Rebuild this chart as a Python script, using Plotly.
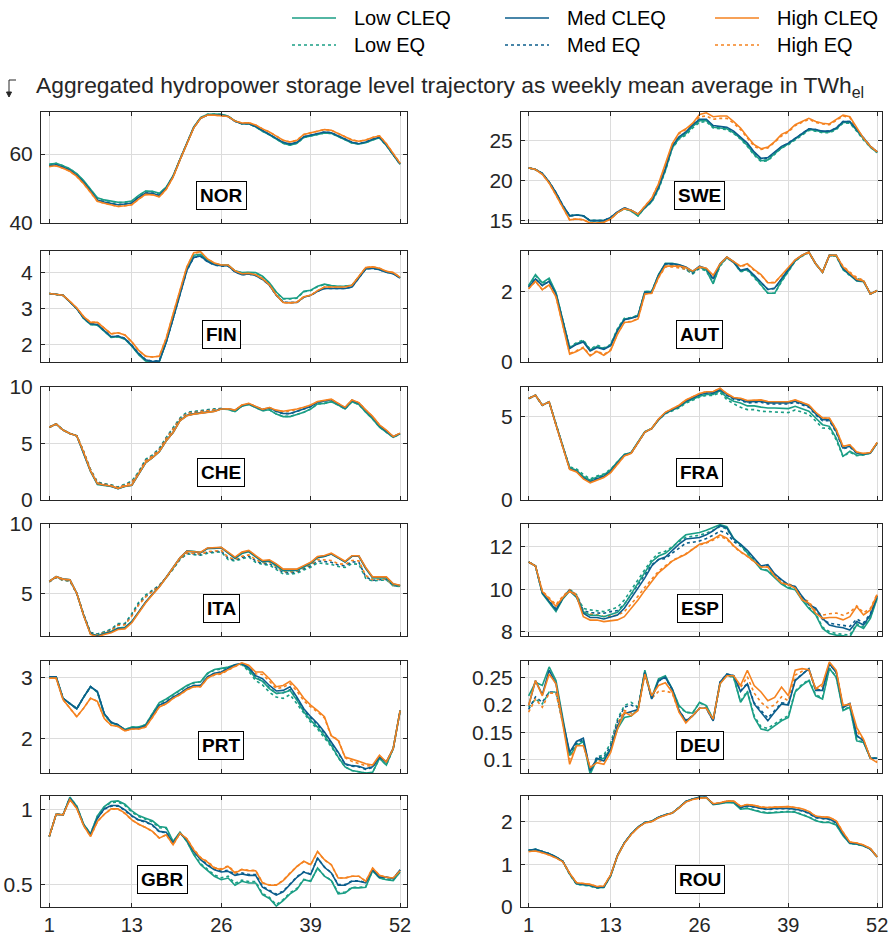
import plotly.graph_objects as go

W, H = 893, 937
WEEKS = list(range(1, 53))

COUNTRIES = ["NOR", "SWE", "FIN", "AUT", "CHE", "FRA", "ITA", "ESP", "PRT", "DEU", "GBR", "ROU"]
SERIES_NAMES = ["Low CLEQ", "Med CLEQ", "High CLEQ", "Low EQ", "Med EQ", "High EQ"]
X_TICKS = [1, 13, 26, 39, 52]

# ---------------- data (TWh_el, weekly mean) ----------------
NOR_LOW_CLEQ = [57.0,57.3,56.6,55.7,54.3,52.3,49.8,47.3,46.7,46.3,46.0,46.1,46.4,48.0,49.3,49.2,48.6,50.4,53.7,58.5,63.0,67.8,70.6,71.5,71.6,71.5,71.0,69.6,68.8,68.8,67.9,66.6,65.6,64.3,63.1,62.6,63.1,64.8,65.2,65.7,66.1,66.0,65.1,64.0,63.2,62.9,63.3,64.1,64.7,62.5,59.7,57.0]
NOR_MED_CLEQ = [56.6,56.9,56.2,55.3,53.8,51.8,49.3,46.7,46.1,45.7,45.3,45.5,45.8,47.4,48.7,48.6,48.0,50.1,53.5,58.4,62.9,67.7,70.4,71.3,71.4,71.3,70.9,69.5,68.8,68.8,68.0,66.8,65.8,64.6,63.4,62.9,63.4,65.0,65.5,66.0,66.4,66.2,65.3,64.3,63.4,63.0,63.5,64.3,64.9,62.6,59.8,57.1]
NOR_HIGH_CLEQ = [56.4,56.6,55.9,55.0,53.5,51.4,48.9,46.3,45.7,45.3,44.8,45.0,45.3,46.9,48.3,48.2,47.6,49.8,53.3,58.3,62.9,67.6,70.4,71.3,71.3,71.2,70.9,69.6,69.0,69.1,68.4,67.3,66.4,65.2,64.0,63.5,64.0,65.7,66.2,66.7,67.1,66.9,66.0,65.0,64.1,63.7,64.1,64.8,65.3,63.0,60.0,57.3]
NOR_LOW_EQ = [57.0,57.3,56.6,55.7,54.2,52.2,49.7,47.2,46.6,46.2,45.9,46.0,46.3,47.9,49.2,49.1,48.5,50.3,53.6,58.4,63.0,67.8,70.6,71.5,71.6,71.5,71.0,69.6,68.8,68.8,67.9,66.6,65.6,64.3,63.1,62.6,63.1,64.8,65.2,65.7,66.1,66.0,65.1,64.0,63.2,62.9,63.3,64.1,64.7,62.5,59.7,57.0]
NOR_MED_EQ = [56.6,56.9,56.2,55.3,53.8,51.8,49.3,46.7,46.1,45.7,45.3,45.5,45.8,47.4,48.7,48.6,48.0,50.1,53.5,58.4,62.9,67.7,70.4,71.3,71.4,71.3,70.9,69.5,68.8,68.8,68.0,66.8,65.8,64.6,63.4,62.9,63.4,65.0,65.5,66.0,66.4,66.2,65.3,64.3,63.4,63.0,63.5,64.3,64.9,62.6,59.8,57.1]
NOR_HIGH_EQ = [56.4,56.6,55.9,55.0,53.5,51.4,48.9,46.3,45.7,45.3,44.8,45.0,45.3,46.9,48.3,48.2,47.6,49.8,53.3,58.3,62.9,67.6,70.4,71.3,71.3,71.2,70.9,69.6,69.0,69.1,68.4,67.3,66.4,65.2,64.0,63.5,64.0,65.7,66.2,66.7,67.1,66.9,66.0,65.0,64.1,63.7,64.1,64.8,65.3,63.0,60.0,57.3]

SWE_LOW_CLEQ = [21.6,21.4,20.9,19.8,18.4,16.8,15.6,15.7,15.6,15.0,15.0,15.0,15.3,16.0,16.5,16.2,15.6,16.6,17.4,19.0,21.3,24.1,25.3,25.9,26.8,27.5,27.5,26.7,26.6,26.5,26.0,25.3,24.4,23.3,22.5,22.6,23.4,24.1,24.6,25.2,25.9,26.4,26.3,26.1,26.1,26.5,27.3,27.3,26.3,25.2,24.2,23.5]
SWE_MED_CLEQ = [21.6,21.4,20.9,19.85,18.5,16.9,15.6,15.7,15.6,15.0,15.0,15.0,15.4,16.1,16.6,16.3,15.8,16.7,17.5,19.2,21.5,24.3,25.5,26.1,27.0,27.7,27.7,26.9,26.8,26.7,26.2,25.5,24.7,23.6,22.8,22.9,23.6,24.3,24.7,25.3,26.0,26.5,26.4,26.2,26.2,26.6,27.4,27.4,26.4,25.3,24.3,23.6]
SWE_HIGH_CLEQ = [21.6,21.4,20.8,19.7,18.2,16.6,15.1,15.2,15.1,14.7,14.7,14.8,15.2,16.0,16.5,16.3,15.8,16.8,17.8,19.6,22.0,24.6,26.0,26.5,27.2,28.3,28.5,28.0,28.1,28.1,27.4,26.6,25.5,24.5,24.0,24.2,24.9,25.8,26.2,27.0,27.4,27.8,27.4,27.2,27.1,27.7,28.2,28.0,26.6,25.3,24.3,23.6]
SWE_LOW_EQ = [21.6,21.4,20.9,19.8,18.4,16.8,15.6,15.7,15.6,15.0,15.0,15.0,15.3,16.0,16.5,16.2,15.6,16.6,17.3,18.9,21.2,24.0,25.2,25.7,26.6,27.3,27.4,26.6,26.5,26.4,25.9,25.2,24.3,23.2,22.4,22.5,23.3,24.1,24.5,25.1,25.8,26.3,26.2,26.0,26.0,26.4,27.2,27.2,26.2,25.1,24.2,23.5]
SWE_MED_EQ = [21.6,21.4,20.9,19.85,18.5,16.9,15.6,15.7,15.6,15.0,15.0,15.0,15.4,16.1,16.6,16.3,15.8,16.7,17.5,19.1,21.4,24.2,25.4,26.0,26.9,27.6,27.6,26.8,26.7,26.6,26.1,25.4,24.6,23.5,22.7,22.8,23.5,24.2,24.7,25.3,26.0,26.5,26.4,26.2,26.2,26.6,27.4,27.4,26.4,25.3,24.3,23.6]
SWE_HIGH_EQ = [21.6,21.4,20.8,19.7,18.2,16.6,15.1,15.2,15.1,14.7,14.7,14.8,15.2,16.0,16.5,16.3,15.8,16.8,17.8,19.6,21.9,24.5,25.9,26.4,27.1,28.0,28.1,27.7,27.8,27.8,27.2,26.4,25.3,24.3,23.9,24.1,24.8,25.6,26.1,26.9,27.3,27.7,27.3,27.1,27.0,27.6,28.1,27.9,26.5,25.3,24.3,23.6]

FIN_LOW_CLEQ = [3.42,3.40,3.37,3.19,3.00,2.73,2.56,2.54,2.38,2.20,2.22,2.15,1.96,1.72,1.55,1.50,1.53,2.08,2.75,3.42,4.12,4.48,4.51,4.35,4.25,4.21,4.21,4.05,4.00,4.01,4.00,3.90,3.72,3.46,3.28,3.28,3.30,3.48,3.51,3.62,3.68,3.64,3.62,3.63,3.65,3.88,4.12,4.14,4.10,4.02,3.98,3.86]
FIN_MED_CLEQ = [3.42,3.40,3.37,3.19,3.00,2.74,2.58,2.56,2.40,2.22,2.24,2.17,1.98,1.75,1.58,1.53,1.55,2.07,2.72,3.37,4.06,4.42,4.46,4.31,4.22,4.19,4.19,4.02,3.94,3.96,3.92,3.81,3.65,3.37,3.18,3.17,3.17,3.32,3.37,3.48,3.56,3.56,3.55,3.56,3.60,3.85,4.10,4.12,4.08,4.01,3.97,3.85]
FIN_HIGH_CLEQ = [3.42,3.40,3.37,3.20,3.02,2.78,2.62,2.62,2.46,2.30,2.33,2.27,2.08,1.84,1.68,1.66,1.68,2.18,2.85,3.48,4.16,4.55,4.58,4.38,4.27,4.21,4.21,4.05,3.97,3.98,3.94,3.83,3.66,3.38,3.17,3.16,3.18,3.33,3.37,3.50,3.60,3.60,3.59,3.60,3.65,3.90,4.14,4.16,4.12,4.04,4.00,3.87]
FIN_LOW_EQ = [3.42,3.40,3.37,3.19,3.00,2.73,2.56,2.54,2.38,2.21,2.22,2.16,1.97,1.73,1.56,1.51,1.54,2.08,2.74,3.41,4.11,4.47,4.50,4.34,4.24,4.20,4.20,4.04,3.99,4.00,3.99,3.89,3.71,3.45,3.27,3.27,3.29,3.47,3.50,3.61,3.67,3.63,3.61,3.62,3.64,3.87,4.11,4.13,4.09,4.02,3.98,3.86]
FIN_MED_EQ = [3.42,3.40,3.37,3.19,3.00,2.74,2.58,2.56,2.40,2.22,2.24,2.18,1.99,1.76,1.59,1.54,1.56,2.07,2.72,3.37,4.06,4.42,4.45,4.30,4.21,4.18,4.18,4.02,3.94,3.96,3.92,3.81,3.65,3.37,3.18,3.17,3.17,3.32,3.37,3.48,3.56,3.56,3.55,3.56,3.60,3.85,4.10,4.12,4.08,4.01,3.97,3.85]
FIN_HIGH_EQ = [3.42,3.40,3.37,3.20,3.02,2.78,2.62,2.62,2.46,2.30,2.33,2.27,2.08,1.84,1.68,1.66,1.68,2.18,2.84,3.47,4.15,4.54,4.57,4.37,4.26,4.21,4.21,4.05,3.97,3.98,3.94,3.83,3.66,3.38,3.17,3.16,3.18,3.33,3.37,3.50,3.60,3.60,3.59,3.60,3.65,3.90,4.14,4.16,4.12,4.04,4.00,3.87]

AUT_LOW_CLEQ = [2.17,2.48,2.25,2.38,1.97,1.15,0.40,0.52,0.60,0.34,0.44,0.38,0.48,0.92,1.22,1.25,1.32,2.00,2.00,2.48,2.80,2.80,2.76,2.68,2.55,2.70,2.60,2.22,2.75,2.97,2.84,2.58,2.63,2.42,2.20,1.95,1.95,2.30,2.58,2.88,3.02,3.12,2.79,2.55,3.03,3.02,2.63,2.46,2.30,2.28,1.93,2.03]
AUT_MED_CLEQ = [2.12,2.36,2.17,2.29,1.93,1.12,0.38,0.50,0.57,0.31,0.41,0.36,0.46,0.89,1.20,1.24,1.30,1.98,1.98,2.46,2.79,2.79,2.76,2.70,2.57,2.72,2.65,2.36,2.79,2.98,2.84,2.60,2.65,2.46,2.27,2.06,2.10,2.36,2.60,2.89,3.03,3.12,2.79,2.55,3.03,3.03,2.65,2.48,2.31,2.29,1.93,2.03]
AUT_HIGH_CLEQ = [2.08,2.29,2.05,2.19,1.85,1.02,0.22,0.30,0.40,0.17,0.30,0.19,0.33,0.79,1.12,1.14,1.22,1.93,1.95,2.40,2.72,2.72,2.72,2.68,2.58,2.70,2.66,2.46,2.78,2.98,2.84,2.72,2.79,2.62,2.48,2.25,2.25,2.46,2.66,2.90,3.03,3.12,2.79,2.55,3.03,3.03,2.70,2.52,2.35,2.30,1.93,2.03]
AUT_LOW_EQ = [2.15,2.45,2.22,2.35,1.95,1.16,0.42,0.55,0.62,0.36,0.48,0.40,0.50,0.95,1.24,1.26,1.33,2.00,2.00,2.47,2.78,2.76,2.70,2.62,2.50,2.66,2.58,2.25,2.72,2.95,2.82,2.56,2.60,2.40,2.18,1.95,1.95,2.28,2.56,2.86,3.00,3.10,2.78,2.55,3.02,3.00,2.62,2.45,2.38,2.30,1.93,2.02]
AUT_MED_EQ = [2.12,2.36,2.17,2.29,1.93,1.12,0.40,0.52,0.59,0.33,0.44,0.38,0.48,0.90,1.21,1.25,1.31,1.98,1.98,2.45,2.77,2.76,2.72,2.64,2.52,2.68,2.62,2.34,2.76,2.96,2.82,2.58,2.63,2.45,2.25,2.06,2.08,2.34,2.58,2.87,3.02,3.11,2.78,2.55,3.02,3.02,2.65,2.48,2.36,2.30,1.93,2.02]
AUT_HIGH_EQ = [2.08,2.29,2.05,2.19,1.85,1.03,0.24,0.32,0.42,0.19,0.32,0.21,0.35,0.80,1.13,1.15,1.23,1.93,1.95,2.39,2.70,2.70,2.68,2.64,2.55,2.68,2.64,2.44,2.76,2.97,2.83,2.70,2.77,2.60,2.46,2.25,2.26,2.45,2.64,2.89,3.02,3.11,2.78,2.55,3.02,3.02,2.72,2.55,2.40,2.32,1.93,2.02]

CHE_LOW_CLEQ = [6.43,6.73,6.19,5.89,5.68,4.18,2.52,1.38,1.28,1.20,1.00,1.20,1.30,2.24,3.28,3.74,4.28,5.24,5.98,7.02,7.47,7.62,7.68,7.77,7.86,8.05,8.02,7.82,8.30,8.46,8.20,7.90,7.98,7.60,7.38,7.38,7.56,7.77,8.05,8.50,8.55,8.70,8.40,8.05,8.70,8.45,7.78,7.18,6.45,6.02,5.55,5.85]
CHE_MED_CLEQ = [6.43,6.73,6.19,5.89,5.68,4.20,2.56,1.43,1.31,1.22,1.01,1.22,1.31,2.26,3.30,3.75,4.29,5.24,5.98,7.02,7.47,7.62,7.68,7.77,7.86,8.07,8.07,7.92,8.36,8.51,8.27,8.00,8.15,7.85,7.65,7.65,7.85,8.07,8.27,8.66,8.75,8.87,8.51,8.15,8.81,8.57,7.92,7.32,6.58,6.13,5.60,5.89]
CHE_HIGH_CLEQ = [6.43,6.73,6.19,5.89,5.68,4.22,2.58,1.45,1.33,1.24,1.03,1.23,1.32,2.27,3.31,3.76,4.30,5.24,5.98,7.00,7.45,7.60,7.66,7.75,7.84,8.05,8.07,7.95,8.40,8.55,8.30,8.02,8.18,7.95,7.85,7.92,8.05,8.20,8.40,8.72,8.80,8.92,8.55,8.20,8.85,8.62,7.98,7.40,6.65,6.18,5.62,5.92]
CHE_LOW_EQ = [6.43,6.73,6.19,5.89,5.68,4.30,2.70,1.60,1.43,1.35,1.15,1.43,1.67,2.50,3.60,3.99,4.58,5.54,6.43,7.26,7.77,7.86,7.92,7.98,8.07,8.10,8.02,7.82,8.30,8.46,8.20,7.90,7.98,7.60,7.40,7.40,7.56,7.77,8.05,8.50,8.55,8.70,8.40,8.05,8.70,8.45,7.78,7.18,6.45,6.02,5.55,5.85]
CHE_MED_EQ = [6.43,6.73,6.19,5.89,5.68,4.27,2.66,1.55,1.40,1.31,1.11,1.38,1.60,2.44,3.52,3.93,4.50,5.46,6.32,7.18,7.70,7.80,7.86,7.93,8.02,8.09,8.06,7.90,8.35,8.50,8.26,8.00,8.14,7.84,7.64,7.64,7.84,8.06,8.26,8.65,8.74,8.86,8.50,8.14,8.80,8.56,7.91,7.31,6.57,6.12,5.60,5.89]
CHE_HIGH_EQ = [6.43,6.73,6.19,5.89,5.68,4.26,2.64,1.52,1.38,1.29,1.09,1.35,1.56,2.40,3.47,3.89,4.46,5.42,6.26,7.14,7.66,7.76,7.82,7.90,7.98,8.07,8.06,7.94,8.38,8.53,8.29,8.02,8.17,7.93,7.82,7.88,8.02,8.18,8.38,8.70,8.78,8.90,8.54,8.18,8.84,8.60,7.96,7.38,6.63,6.16,5.61,5.91]

FRA_LOW_CLEQ = [6.06,6.25,5.66,5.86,4.52,3.14,1.92,1.78,1.40,1.18,1.38,1.50,1.80,2.28,2.72,2.84,3.43,4.08,4.28,4.80,5.18,5.36,5.55,5.84,6.03,6.20,6.30,6.30,6.52,6.12,5.90,5.80,5.62,5.62,5.55,5.50,5.50,5.46,5.46,5.60,5.46,5.30,4.90,4.50,4.40,3.70,2.61,2.91,2.67,2.71,2.81,3.41]
FRA_MED_CLEQ = [6.06,6.25,5.66,5.86,4.50,3.11,1.87,1.71,1.31,1.08,1.27,1.41,1.71,2.21,2.67,2.81,3.41,4.06,4.26,4.80,5.20,5.40,5.60,5.90,6.10,6.29,6.39,6.39,6.59,6.29,6.06,6.00,5.86,5.86,5.90,5.80,5.80,5.80,5.80,5.90,5.74,5.60,5.14,4.80,4.80,4.10,3.11,3.21,2.81,2.75,2.81,3.41]
FRA_HIGH_CLEQ = [6.06,6.25,5.66,5.86,4.48,3.08,1.83,1.67,1.26,1.03,1.20,1.34,1.64,2.15,2.63,2.79,3.40,4.06,4.27,4.83,5.24,5.45,5.66,5.97,6.18,6.36,6.47,6.48,6.68,6.36,6.12,6.08,5.94,5.94,5.98,5.88,5.88,5.87,5.87,5.98,5.82,5.68,5.24,4.90,4.90,4.22,3.21,3.30,2.86,2.78,2.84,3.43]
FRA_LOW_EQ = [6.06,6.25,5.66,5.86,4.55,3.18,1.98,1.86,1.52,1.26,1.44,1.55,1.84,2.30,2.72,2.84,3.43,4.06,4.27,4.78,5.15,5.32,5.50,5.78,5.98,6.15,6.25,6.24,6.42,6.00,5.75,5.54,5.40,5.40,5.30,5.28,5.25,5.20,5.22,5.38,5.25,5.12,4.72,4.30,4.28,3.60,2.58,2.86,2.64,2.69,2.80,3.41]
FRA_MED_EQ = [6.06,6.25,5.66,5.86,4.51,3.13,1.90,1.75,1.35,1.12,1.31,1.44,1.74,2.23,2.68,2.81,3.41,4.06,4.26,4.79,5.19,5.39,5.59,5.89,6.09,6.28,6.37,6.37,6.56,6.25,6.02,5.95,5.80,5.80,5.84,5.74,5.74,5.73,5.73,5.84,5.68,5.54,5.08,4.74,4.73,4.04,3.06,3.17,2.79,2.74,2.81,3.41]
FRA_HIGH_EQ = [6.06,6.25,5.66,5.86,4.48,3.09,1.85,1.70,1.30,1.06,1.23,1.37,1.66,2.16,2.63,2.79,3.40,4.05,4.26,4.82,5.23,5.44,5.65,5.96,6.17,6.35,6.46,6.47,6.66,6.34,6.10,6.06,5.92,5.92,5.96,5.86,5.86,5.85,5.85,5.96,5.80,5.66,5.22,4.88,4.88,4.20,3.19,3.28,2.85,2.78,2.84,3.43]

ITA_LOW_CLEQ = [5.87,6.21,6.04,6.00,5.02,3.45,2.12,1.97,2.14,2.27,2.53,2.57,3.00,3.72,4.38,4.95,5.50,6.15,6.82,7.55,8.05,8.03,7.94,8.24,8.25,8.30,7.90,7.52,7.88,8.00,7.64,7.28,7.33,7.02,6.65,6.65,6.66,6.90,7.16,7.58,7.66,7.84,7.55,7.26,7.68,7.68,6.80,6.12,6.12,6.12,5.64,5.55]
ITA_MED_CLEQ = [5.87,6.21,6.04,6.00,5.02,3.45,2.11,1.94,2.11,2.23,2.48,2.52,2.96,3.69,4.37,4.95,5.51,6.17,6.84,7.57,8.06,8.01,7.94,8.25,8.25,8.30,7.94,7.57,7.94,8.06,7.69,7.33,7.38,7.09,6.72,6.72,6.72,6.97,7.21,7.62,7.69,7.86,7.57,7.28,7.69,7.69,6.84,6.17,6.17,6.17,5.68,5.58]
ITA_HIGH_CLEQ = [5.87,6.21,6.04,6.00,5.02,3.43,2.06,1.90,2.06,2.18,2.42,2.46,2.90,3.64,4.32,4.92,5.48,6.15,6.84,7.57,8.04,8.00,7.97,8.28,8.28,8.33,7.98,7.62,7.98,8.10,7.73,7.38,7.43,7.14,6.76,6.76,6.76,7.01,7.25,7.66,7.73,7.90,7.60,7.32,7.72,7.72,6.88,6.20,6.20,6.20,5.70,5.60]
ITA_LOW_EQ = [5.85,6.15,5.95,5.90,5.00,3.50,2.20,2.10,2.25,2.45,2.84,2.85,3.57,4.37,4.90,5.27,5.60,6.15,6.75,7.45,7.85,7.80,7.75,7.90,7.95,8.00,7.45,7.33,7.50,7.62,7.25,7.09,7.05,6.75,6.41,6.40,6.45,6.70,6.89,7.21,7.15,7.09,6.95,6.88,7.15,7.10,6.10,5.90,5.95,5.98,5.55,5.50]
ITA_MED_EQ = [5.85,6.16,5.97,5.92,5.01,3.48,2.18,2.06,2.22,2.40,2.78,2.80,3.45,4.25,4.80,5.20,5.58,6.15,6.78,7.48,7.90,7.85,7.80,7.98,8.02,8.05,7.55,7.40,7.60,7.70,7.35,7.15,7.15,6.85,6.52,6.50,6.55,6.80,7.00,7.35,7.30,7.25,7.05,7.00,7.28,7.25,6.20,5.95,6.00,6.02,5.58,5.52]
ITA_HIGH_EQ = [5.85,6.16,5.97,5.92,5.01,3.46,2.15,2.02,2.18,2.35,2.72,2.75,3.38,4.18,4.75,5.16,5.56,6.15,6.80,7.50,7.92,7.88,7.84,8.02,8.06,8.10,7.62,7.45,7.68,7.78,7.45,7.22,7.25,6.95,6.60,6.58,6.62,6.88,7.08,7.45,7.40,7.38,7.15,7.10,7.38,7.35,6.30,6.00,6.05,6.05,5.60,5.54]

ESP_LOW_CLEQ = [11.29,11.10,9.80,9.35,8.95,9.55,9.92,9.62,8.95,8.78,8.78,8.71,8.82,8.92,9.28,9.78,10.30,10.75,11.30,11.57,11.70,11.97,12.30,12.57,12.62,12.68,12.78,12.92,13.05,12.95,12.40,12.10,11.73,11.35,10.95,10.86,10.55,10.25,10.05,9.98,9.50,9.10,8.79,8.16,7.92,7.84,7.81,7.76,8.32,8.16,8.63,9.59]
ESP_MED_CLEQ = [11.29,11.10,9.83,9.43,9.03,9.59,9.94,9.67,8.87,8.67,8.67,8.60,8.71,8.79,9.11,9.59,10.10,10.54,11.10,11.41,11.52,11.81,12.13,12.37,12.41,12.44,12.57,12.76,13.00,12.89,12.37,12.13,11.84,11.46,11.10,11.17,10.73,10.46,10.22,10.14,9.67,9.27,9.11,8.63,8.32,8.24,8.19,8.08,8.48,8.32,8.79,9.67]
ESP_HIGH_CLEQ = [11.29,11.10,9.90,9.55,9.20,9.62,9.92,9.70,8.71,8.55,8.55,8.48,8.52,8.56,8.71,9.10,9.50,9.95,10.38,10.78,11.05,11.33,11.50,11.65,11.89,12.13,12.21,12.37,12.57,12.41,12.05,11.78,11.57,11.33,11.05,11.05,10.62,10.30,10.22,10.06,9.50,9.35,8.87,8.63,8.67,8.67,8.56,8.71,9.19,8.79,9.03,9.75]
ESP_LOW_EQ = [11.29,11.10,9.82,9.40,9.00,9.58,10.00,9.75,9.10,9.03,9.00,8.95,9.05,9.15,9.50,9.98,10.50,10.95,11.40,11.70,11.80,12.00,12.25,12.45,12.50,12.55,12.65,12.80,12.95,12.85,12.35,12.05,11.70,11.35,10.98,10.90,10.58,10.30,10.10,10.02,9.55,9.15,8.85,8.22,8.00,7.92,7.88,7.85,8.38,8.22,8.68,9.60]
ESP_MED_EQ = [11.29,11.10,9.85,9.48,9.08,9.62,9.98,9.72,9.00,8.90,8.88,8.87,8.95,9.00,9.30,9.75,10.25,10.65,11.15,11.40,11.45,11.70,11.95,12.18,12.22,12.28,12.40,12.55,12.75,12.65,12.25,12.05,11.78,11.42,11.08,11.12,10.70,10.42,10.20,10.12,9.65,9.28,9.05,8.58,8.40,8.35,8.30,8.25,8.60,8.42,8.85,9.68]
ESP_HIGH_EQ = [11.29,11.10,9.92,9.60,9.28,9.68,9.98,9.75,8.90,8.83,8.80,8.72,8.75,8.78,8.95,9.30,9.68,10.10,10.50,10.85,11.10,11.35,11.52,11.68,11.90,12.10,12.18,12.32,12.50,12.36,12.02,11.76,11.55,11.32,11.05,11.05,10.64,10.35,10.26,10.12,9.58,9.42,8.98,8.78,8.85,8.88,8.78,8.92,9.22,8.90,9.10,9.78]

PRT_LOW_CLEQ = [3.01,3.01,2.66,2.57,2.49,2.68,2.85,2.76,2.40,2.26,2.22,2.15,2.19,2.19,2.23,2.41,2.59,2.65,2.72,2.79,2.87,2.92,2.93,3.07,3.13,3.15,3.17,3.21,3.22,3.13,2.99,2.94,2.82,2.74,2.75,2.79,2.63,2.44,2.30,2.19,2.05,1.89,1.70,1.54,1.48,1.46,1.44,1.45,1.68,1.57,1.84,2.46]
PRT_MED_CLEQ = [3.01,3.01,2.66,2.57,2.49,2.68,2.85,2.77,2.41,2.27,2.23,2.14,2.17,2.17,2.21,2.38,2.55,2.60,2.68,2.74,2.82,2.87,2.87,3.01,3.07,3.09,3.15,3.21,3.23,3.16,3.03,2.98,2.87,2.78,2.79,2.85,2.68,2.49,2.36,2.25,2.11,1.95,1.78,1.59,1.56,1.55,1.51,1.54,1.70,1.62,1.84,2.46]
PRT_HIGH_CLEQ = [2.99,2.99,2.64,2.50,2.36,2.50,2.66,2.61,2.33,2.22,2.20,2.13,2.16,2.16,2.19,2.35,2.52,2.57,2.66,2.72,2.80,2.85,2.85,2.99,3.05,3.07,3.13,3.19,3.24,3.20,3.09,3.09,2.98,2.85,2.87,2.94,2.82,2.66,2.55,2.46,2.36,2.05,1.97,1.70,1.67,1.63,1.59,1.57,1.73,1.62,1.84,2.46]
PRT_LOW_EQ = [3.01,3.01,2.66,2.57,2.49,2.68,2.85,2.76,2.40,2.26,2.22,2.15,2.19,2.19,2.23,2.41,2.58,2.64,2.71,2.78,2.86,2.91,2.93,3.06,3.12,3.14,3.16,3.20,3.21,3.10,2.95,2.88,2.76,2.68,2.66,2.72,2.57,2.40,2.27,2.16,2.02,1.87,1.69,1.54,1.48,1.46,1.44,1.45,1.68,1.57,1.84,2.46]
PRT_MED_EQ = [3.01,3.01,2.66,2.57,2.49,2.68,2.85,2.77,2.41,2.27,2.23,2.14,2.17,2.17,2.21,2.38,2.55,2.60,2.68,2.74,2.82,2.87,2.87,3.01,3.07,3.09,3.14,3.20,3.22,3.14,3.00,2.94,2.83,2.74,2.75,2.80,2.65,2.47,2.34,2.23,2.09,1.94,1.77,1.58,1.55,1.54,1.50,1.53,1.70,1.62,1.84,2.46]
PRT_HIGH_EQ = [2.99,2.99,2.64,2.50,2.36,2.50,2.66,2.61,2.33,2.22,2.20,2.13,2.16,2.16,2.19,2.35,2.52,2.57,2.66,2.72,2.80,2.85,2.85,2.99,3.04,3.06,3.12,3.18,3.22,3.18,3.06,3.05,2.94,2.82,2.84,2.90,2.78,2.62,2.52,2.44,2.34,2.04,1.99,1.69,1.63,1.60,1.56,1.55,1.72,1.62,1.84,2.46]

DEU_LOW_CLEQ = [0.217,0.242,0.236,0.270,0.245,0.177,0.107,0.125,0.133,0.073,0.100,0.102,0.119,0.156,0.177,0.180,0.192,0.264,0.214,0.248,0.254,0.230,0.199,0.187,0.185,0.205,0.199,0.174,0.239,0.256,0.251,0.205,0.224,0.177,0.156,0.153,0.162,0.171,0.177,0.224,0.236,0.245,0.217,0.211,0.267,0.251,0.190,0.196,0.134,0.131,0.102,0.102]
DEU_MED_CLEQ = [0.199,0.245,0.219,0.264,0.239,0.171,0.113,0.133,0.139,0.079,0.102,0.097,0.119,0.162,0.184,0.188,0.192,0.260,0.211,0.245,0.251,0.230,0.190,0.171,0.180,0.194,0.194,0.171,0.242,0.257,0.254,0.225,0.239,0.202,0.187,0.171,0.187,0.202,0.200,0.245,0.256,0.267,0.227,0.227,0.276,0.260,0.196,0.202,0.144,0.134,0.102,0.102]
DEU_HIGH_CLEQ = [0.199,0.245,0.217,0.257,0.239,0.168,0.091,0.125,0.125,0.085,0.094,0.091,0.113,0.156,0.187,0.180,0.190,0.257,0.217,0.236,0.241,0.224,0.187,0.167,0.180,0.194,0.194,0.174,0.239,0.254,0.254,0.236,0.264,0.236,0.224,0.208,0.214,0.233,0.217,0.264,0.267,0.265,0.230,0.239,0.279,0.264,0.199,0.202,0.159,0.137,0.102,0.094]
DEU_LOW_EQ = [0.196,0.211,0.202,0.224,0.224,0.170,0.110,0.128,0.134,0.076,0.105,0.108,0.130,0.174,0.199,0.205,0.196,0.262,0.212,0.246,0.252,0.229,0.198,0.186,0.186,0.204,0.198,0.173,0.240,0.255,0.250,0.207,0.226,0.180,0.160,0.157,0.165,0.174,0.180,0.226,0.238,0.247,0.219,0.213,0.268,0.252,0.191,0.197,0.135,0.132,0.102,0.102]
DEU_MED_EQ = [0.192,0.215,0.205,0.224,0.224,0.168,0.112,0.130,0.136,0.078,0.104,0.104,0.125,0.170,0.196,0.200,0.194,0.260,0.212,0.244,0.250,0.228,0.190,0.172,0.180,0.194,0.194,0.171,0.242,0.257,0.254,0.226,0.240,0.204,0.190,0.176,0.190,0.204,0.203,0.246,0.257,0.266,0.228,0.228,0.276,0.260,0.196,0.203,0.143,0.134,0.103,0.102]
DEU_HIGH_EQ = [0.187,0.211,0.196,0.222,0.222,0.165,0.100,0.126,0.128,0.085,0.098,0.096,0.118,0.165,0.190,0.185,0.190,0.256,0.212,0.225,0.226,0.222,0.188,0.170,0.180,0.194,0.194,0.173,0.240,0.255,0.253,0.232,0.252,0.222,0.205,0.195,0.200,0.215,0.208,0.255,0.262,0.265,0.229,0.235,0.277,0.262,0.198,0.202,0.152,0.136,0.102,0.096]

GBR_LOW_CLEQ = [0.822,0.971,0.967,1.085,1.025,0.905,0.840,0.960,1.022,1.056,1.060,1.038,0.993,0.962,0.944,0.927,0.889,0.882,0.789,0.851,0.789,0.700,0.633,0.593,0.556,0.533,0.544,0.496,0.522,0.511,0.511,0.433,0.407,0.356,0.393,0.438,0.467,0.533,0.522,0.611,0.556,0.527,0.438,0.444,0.478,0.478,0.482,0.593,0.544,0.533,0.527,0.584]
GBR_MED_CLEQ = [0.822,0.971,0.967,1.078,1.016,0.900,0.833,0.944,1.007,1.029,1.029,1.000,0.962,0.933,0.922,0.900,0.856,0.851,0.778,0.844,0.800,0.722,0.667,0.629,0.600,0.584,0.589,0.562,0.571,0.562,0.562,0.482,0.456,0.429,0.451,0.500,0.549,0.584,0.567,0.678,0.616,0.578,0.496,0.496,0.522,0.522,0.511,0.600,0.549,0.549,0.540,0.600]
GBR_HIGH_CLEQ = [0.822,0.971,0.967,1.070,1.010,0.895,0.822,0.922,0.971,1.007,1.007,0.978,0.933,0.904,0.882,0.856,0.811,0.833,0.767,0.844,0.807,0.733,0.678,0.651,0.611,0.600,0.622,0.578,0.600,0.593,0.593,0.511,0.496,0.496,0.527,0.578,0.622,0.656,0.633,0.722,0.667,0.633,0.544,0.544,0.556,0.556,0.522,0.611,0.562,0.549,0.544,0.593]
GBR_LOW_EQ = [0.822,0.971,0.967,1.085,1.025,0.905,0.840,0.958,1.020,1.050,1.052,1.030,0.985,0.955,0.938,0.920,0.880,0.876,0.785,0.848,0.790,0.705,0.640,0.605,0.565,0.545,0.556,0.508,0.530,0.520,0.520,0.440,0.415,0.365,0.400,0.445,0.475,0.535,0.525,0.610,0.558,0.530,0.445,0.450,0.482,0.482,0.486,0.592,0.545,0.535,0.530,0.585]
GBR_MED_EQ = [0.822,0.971,0.967,1.078,1.016,0.900,0.833,0.944,1.005,1.025,1.025,0.996,0.958,0.930,0.918,0.896,0.852,0.848,0.778,0.844,0.800,0.724,0.670,0.633,0.605,0.590,0.596,0.568,0.578,0.568,0.568,0.488,0.462,0.436,0.456,0.505,0.553,0.586,0.570,0.676,0.618,0.580,0.500,0.500,0.525,0.525,0.514,0.600,0.550,0.549,0.540,0.598]
GBR_HIGH_EQ = [0.822,0.971,0.967,1.070,1.010,0.895,0.822,0.922,0.971,1.005,1.005,0.976,0.932,0.904,0.882,0.856,0.811,0.833,0.767,0.844,0.807,0.735,0.682,0.655,0.615,0.605,0.626,0.582,0.602,0.595,0.595,0.513,0.498,0.498,0.528,0.578,0.620,0.654,0.632,0.718,0.665,0.632,0.544,0.544,0.556,0.556,0.522,0.610,0.562,0.549,0.544,0.593]

ROU_LOW_CLEQ = [1.33,1.35,1.30,1.25,1.17,1.07,0.77,0.54,0.52,0.50,0.45,0.46,0.73,1.20,1.50,1.71,1.87,1.98,2.01,2.10,2.16,2.20,2.33,2.47,2.53,2.57,2.56,2.40,2.42,2.45,2.44,2.29,2.31,2.26,2.22,2.20,2.21,2.22,2.23,2.22,2.16,2.10,2.02,1.98,1.98,1.92,1.67,1.49,1.47,1.43,1.36,1.17]
ROU_MED_CLEQ = [1.33,1.35,1.30,1.25,1.17,1.07,0.78,0.55,0.53,0.51,0.46,0.47,0.74,1.21,1.50,1.71,1.87,1.98,2.01,2.10,2.16,2.20,2.33,2.47,2.53,2.57,2.57,2.41,2.43,2.47,2.47,2.33,2.37,2.35,2.31,2.29,2.31,2.31,2.31,2.29,2.26,2.20,2.10,2.08,2.06,1.98,1.71,1.50,1.48,1.44,1.36,1.17]
ROU_HIGH_CLEQ = [1.30,1.31,1.27,1.22,1.15,1.06,0.79,0.57,0.55,0.53,0.48,0.49,0.75,1.20,1.49,1.70,1.86,1.97,2.00,2.09,2.15,2.20,2.32,2.46,2.52,2.55,2.56,2.42,2.44,2.48,2.48,2.36,2.40,2.38,2.34,2.33,2.34,2.35,2.35,2.33,2.30,2.24,2.13,2.11,2.10,2.02,1.75,1.52,1.50,1.45,1.37,1.17]
ROU_LOW_EQ = [1.33,1.35,1.30,1.25,1.17,1.07,0.76,0.53,0.51,0.49,0.44,0.46,0.73,1.20,1.50,1.71,1.87,1.98,2.01,2.10,2.16,2.20,2.33,2.47,2.53,2.57,2.56,2.41,2.43,2.46,2.45,2.30,2.32,2.27,2.23,2.21,2.22,2.23,2.24,2.23,2.17,2.11,2.03,1.99,1.99,1.93,1.68,1.49,1.47,1.43,1.36,1.17]
ROU_MED_EQ = [1.33,1.35,1.30,1.25,1.17,1.07,0.78,0.55,0.53,0.51,0.46,0.47,0.74,1.21,1.50,1.71,1.87,1.98,2.01,2.10,2.16,2.20,2.33,2.47,2.53,2.57,2.57,2.41,2.43,2.47,2.47,2.33,2.37,2.34,2.30,2.28,2.30,2.30,2.30,2.28,2.25,2.19,2.09,2.07,2.05,1.97,1.71,1.50,1.48,1.44,1.36,1.17]
ROU_HIGH_EQ = [1.30,1.31,1.27,1.22,1.15,1.06,0.79,0.57,0.55,0.53,0.48,0.49,0.75,1.20,1.49,1.70,1.86,1.97,2.00,2.09,2.15,2.20,2.32,2.46,2.52,2.55,2.56,2.42,2.44,2.48,2.48,2.36,2.40,2.38,2.34,2.33,2.34,2.35,2.35,2.33,2.30,2.24,2.13,2.11,2.10,2.02,1.75,1.52,1.50,1.45,1.37,1.17]

# y-axis ranges and ticks per panel
Y_RANGES = {"NOR": [40, 72.2], "SWE": [14.7, 28.6], "FIN": [1.52, 4.6], "AUT": [0, 3.15],
            "CHE": [0, 10], "FRA": [0, 6.75], "ITA": [1.95, 10], "ESP": [7.8, 13.08],
            "PRT": [1.44, 3.27], "DEU": [0.075, 0.281], "GBR": [0.35, 1.093], "ROU": [0, 2.6]}
Y_TICKS = {"NOR": [40, 60], "SWE": [15, 20, 25], "FIN": [2, 3, 4], "AUT": [0, 2],
           "CHE": [0, 5, 10], "FRA": [0, 5], "ITA": [5, 10], "ESP": [8, 10, 12],
           "PRT": [2, 3], "DEU": [0.1, 0.15, 0.2, 0.25], "GBR": [0.5, 1], "ROU": [0, 1, 2]}
LABEL_X = {"GBR": 17.4}

DATA = {}
for c in COUNTRIES:
    g = globals()
    DATA[c] = [g[f"{c}_LOW_CLEQ"], g[f"{c}_MED_CLEQ"], g[f"{c}_HIGH_CLEQ"],
               g[f"{c}_LOW_EQ"], g[f"{c}_MED_EQ"], g[f"{c}_HIGH_EQ"]]

# ---------------- styling ----------------
FONT = "Liberation Sans, Arial, Helvetica, sans-serif"
INK = "#262626"
COLORS = ["#1a9e85", "#0b5e8c", "#f5821f"]
COL_PX = [(41, 407), (521, 882)]
ROW_PX = [(112, 223), (251, 362), (387, 500), (524, 636), (661, 773), (796, 907)]
X_RANGES = [[-0.2, 53.0], [-0.12, 52.7]]

fig = go.Figure()
layout = {}
annotations = []
shapes = []

for i, c in enumerate(COUNTRIES):
    r, col = divmod(i, 2)
    n = i + 1
    sfx = "" if n == 1 else str(n)
    x0, x1 = COL_PX[col]
    y0, y1 = ROW_PX[r]
    series = DATA[c]
    # dotted EQ first, solid CLEQ on top
    for k in [3, 4, 5, 0, 1, 2]:
        fig.add_trace(go.Scatter(
            x=WEEKS, y=series[k], mode="lines", name=SERIES_NAMES[k],
            line=dict(color=COLORS[k % 3], width=1.6, dash="dot" if k >= 3 else "solid"),
            xaxis="x" + sfx, yaxis="y" + sfx, showlegend=False,
            hovertemplate=c + " " + SERIES_NAMES[k] + "<br>week %{x}: %{y}<extra></extra>"))
    common = dict(showline=True, linecolor=INK, linewidth=1, mirror="ticks",
                  ticks="inside", ticklen=4, tickcolor=INK, tickwidth=1,
                  showgrid=True, gridcolor="#dcdcdc", gridwidth=1, zeroline=False,
                  automargin=False, fixedrange=True)
    layout["xaxis" + sfx] = dict(common, domain=[x0 / W, x1 / W], range=X_RANGES[col],
                                 tickmode="array", tickvals=X_TICKS,
                                 ticktext=[str(t) for t in X_TICKS],
                                 showticklabels=(r == 5), anchor="y" + sfx,
                                 ticklabelstandoff=0,
                                 tickfont=dict(family=FONT, size=20, color=INK))
    yt = Y_TICKS[c]
    layout["yaxis" + sfx] = dict(common, domain=[1 - y1 / H, 1 - y0 / H], range=Y_RANGES[c],
                                 tickmode="array", tickvals=yt,
                                 ticktext=[("%g" % v) for v in yt],
                                 anchor="x" + sfx, ticklabelstandoff=3,
                                 tickfont=dict(family=FONT, size=21, color=INK))
    annotations.append(dict(
        x=LABEL_X.get(c, 26), y=0.245 if c != "GBR" else 0.25,
        xref="x" + sfx, yref=f"y{sfx} domain",
        text="<b>" + c + "</b>", showarrow=False,
        font=dict(family=FONT, size=19, color="black"),
        bgcolor="white", bordercolor="black", borderwidth=1, borderpad=3,
        xanchor="center", yanchor="middle"))

# ---------------- custom legend ----------------
LEG_ITEMS = [
    (292, 18, "Low CLEQ", 0, "solid"), (505, 18, "Med CLEQ", 1, "solid"), (715, 18, "High CLEQ", 2, "solid"),
    (292, 45, "Low EQ", 0, "dot"), (505, 45, "Med EQ", 1, "dot"), (715, 45, "High EQ", 2, "dot"),
]
for (lx, ly, txt, ci, dash) in LEG_ITEMS:
    shapes.append(dict(type="line", xref="paper", yref="paper",
                       x0=lx / W, x1=(lx + 44) / W, y0=1 - ly / H, y1=1 - ly / H,
                       line=dict(color=COLORS[ci], width=1.6, dash=dash)))
    annotations.append(dict(x=(lx + 60) / W, y=1 - ly / H, xref="paper", yref="paper",
                            text=txt, showarrow=False, xanchor="left", yanchor="middle",
                            font=dict(family=FONT, size=20, color="black")))

# ---------------- title line ----------------
annotations.append(dict(x=34 / W, y=1 - 86 / H, xref="paper", yref="paper",
                        text="Aggregated hydropower storage level trajectory as weekly mean average in TWh<sub>el</sub>",
                        showarrow=False, xanchor="left", yanchor="middle",
                        font=dict(family=FONT, size=22.8, color=INK)))
shapes.append(dict(type="path", xref="paper", yref="paper",
                   path=f"M {16/W} {1-80/H} L {9/W} {1-80/H} L {9/W} {1-94/H}",
                   line=dict(color=INK, width=1)))
shapes.append(dict(type="path", xref="paper", yref="paper",
                   path=f"M {6.5/W} {1-92/H} L {11.5/W} {1-92/H} L {9/W} {1-97/H} Z",
                   line=dict(color=INK, width=1), fillcolor=INK))

layout.update(dict(width=W, height=H, margin=dict(l=0, r=0, t=0, b=0, autoexpand=False),
                   paper_bgcolor="white", plot_bgcolor="white",
                   showlegend=False, annotations=annotations, shapes=shapes,
                   font=dict(family=FONT, color=INK)))
fig.update_layout(layout)
fig.write_html("out.html", config={"displayModeBar": False},
               post_script="document.body.style.margin='0px';document.body.style.padding='0px';")
